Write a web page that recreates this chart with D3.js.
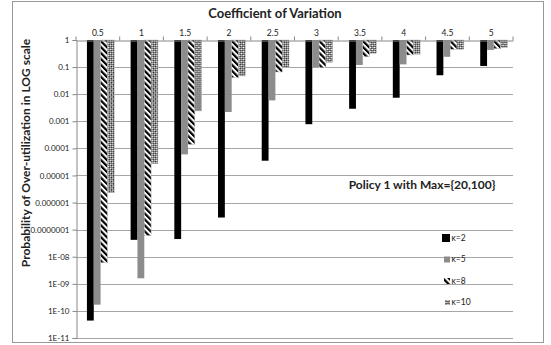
<!DOCTYPE html>
<html>
<head>
<meta charset="utf-8">
<script src="https://cdn.jsdelivr.net/npm/d3@7"></script>
<style>
  body { margin: 0; background: #fff; }
  text { font-family: Lato, "Liberation Sans", sans-serif; fill: #222; }
</style>
</head>
<body>
<script>
// categories and series
var categories = ["0.5", "1", "1.5", "2", "2.5", "3", "3.5", "4", "4.5", "5"];
var seriesNames = ["κ=2", "κ=5", "κ=8", "κ=10"];
var k2  = [4.4e-11, 4.2e-8, 4.5e-8, 2.8e-7, 3.5e-5, 7.8e-4, 2.9e-3, 7.4e-3, 0.05, 0.11];
var k5  = [1.7e-10, 1.6e-9, 6e-5, 2.2e-3, 5.9e-3, 0.10, 0.12, 0.126, 0.24, 0.43];
var k8  = [6e-9, 6e-8, 1.4e-4, 0.041, 0.066, 0.095, 0.24, 0.28, 0.45, 0.48];
var k10 = [2.3e-6, 2.7e-5, 2.4e-3, 0.047, 0.095, 0.15, 0.32, 0.3, 0.45, 0.52];
var yTicks = [1, 0.1, 0.01, 0.001, 1e-4, 1e-5, 1e-6, 1e-7, 1e-8, 1e-9, 1e-10, 1e-11];
var yTickLabels = ["1", "0.1", "0.01", "0.001", "0.0001", "0.00001", "0.000001",
                   "0.0000001", "1E-08", "1E-09", "1E-10", "1E-11"];

var allSeries = [k2, k5, k8, k10];

var width = 551, height = 345;
var plot = {left: 76, right: 513, top: 40, bottom: 338};

var svg = d3.select("body").append("svg")
    .attr("width", width)
    .attr("height", height);

// patterns for the hatched series
var defs = svg.append("defs");
var hatch = defs.append("pattern")
    .attr("id", "hatch")
    .attr("patternUnits", "userSpaceOnUse")
    .attr("width", 4.2).attr("height", 4.2)
    .attr("patternTransform", "rotate(-45)");
hatch.append("rect").attr("width", 4.2).attr("height", 4.2).attr("fill", "#fff");
hatch.append("rect").attr("width", 2.2).attr("height", 4.2).attr("fill", "#000");

// small checker turned 45 degrees
var zig = defs.append("pattern")
    .attr("id", "zig")
    .attr("patternUnits", "userSpaceOnUse")
    .attr("width", 2.8).attr("height", 2.8)
    .attr("patternTransform", "rotate(45)");
zig.append("rect").attr("width", 2.8).attr("height", 2.8).attr("fill", "#fff");
zig.append("rect").attr("width", 1.4).attr("height", 1.4).attr("fill", "#111");
zig.append("rect").attr("x", 1.4).attr("y", 1.4).attr("width", 1.4).attr("height", 1.4).attr("fill", "#111");

var fills = ["#000", "#8c8c8c", "url(#hatch)", "url(#zig)"];

// outer frame
svg.append("rect")
    .attr("x", 12.5).attr("y", 1.5)
    .attr("width", 531).attr("height", 341)
    .attr("fill", "none")
    .attr("stroke", "#999");

// scales
var x0 = d3.scaleBand().domain(categories).range([plot.left, plot.right]);
var x1 = d3.scaleBand().domain(d3.range(seriesNames.length))
    .range([x0.step() * 0.25, x0.step() * 0.875]);
var y = d3.scaleLog().domain([1e-11, 1]).range([plot.bottom, plot.top]);

// gridlines
svg.append("g").selectAll("line")
    .data(yTicks.slice(1))
    .enter().append("line")
    .attr("x1", plot.left).attr("x2", plot.right)
    .attr("y1", function(d) { return Math.round(y(d)) + 0.5; })
    .attr("y2", function(d) { return Math.round(y(d)) + 0.5; })
    .attr("stroke", "#a6a6a6");

// bars
var groups = svg.append("g").selectAll("g")
    .data(categories)
    .enter().append("g")
    .attr("transform", function(d) { return "translate(" + x0(d) + ",0)"; });

groups.selectAll("rect")
    .data(function(d, i) { return allSeries.map(function(s, j) { return {j: j, v: s[i]}; }); })
    .enter().append("rect")
    .attr("x", function(d) { return x1(d.j); })
    .attr("width", x1.bandwidth())
    .attr("y", y(1))
    .attr("height", function(d) { return y(d.v) - y(1); })
    .attr("fill", function(d) { return fills[d.j]; })
    .attr("stroke", function(d) { return d.j >= 2 ? "#bbb" : "none"; })
    .attr("stroke-width", 0.5);

// top axis
var xAxis = svg.append("g")
    .attr("transform", "translate(0," + (plot.top + 0.5) + ")")
    .call(d3.axisTop(x0).tickSize(0).tickPadding(5));
xAxis.select(".domain").attr("stroke", "#888");
xAxis.selectAll("text").attr("font-size", 8.5).attr("fill", "#333")
    .style("font-family", "Lato, sans-serif");
// tick marks between categories
xAxis.selectAll(".sep")
    .data(categories.concat([null]))
    .enter().append("line")
    .attr("class", "sep")
    .attr("x1", function(d, i) { return plot.left + i * x0.step(); })
    .attr("x2", function(d, i) { return plot.left + i * x0.step(); })
    .attr("y1", 0).attr("y2", -4)
    .attr("stroke", "#888");

// left axis
var yAxis = svg.append("g")
    .attr("transform", "translate(" + (plot.left + 0.5) + ",0)")
    .call(d3.axisLeft(y).tickValues(yTicks).tickSize(4).tickPadding(3)
      .tickFormat(function(d, i) { return yTickLabels[i]; }));
yAxis.select(".domain").attr("stroke", "#888");
yAxis.selectAll(".tick line").attr("stroke", "#888");
yAxis.selectAll("text").attr("font-size", 8).attr("fill", "#333")
    .style("font-family", "Lato, sans-serif");

// titles
svg.append("text")
    .attr("x", 275).attr("y", 18)
    .attr("text-anchor", "middle")
    .attr("font-size", 13).attr("font-weight", "bold")
    .text("Coefficient of Variation");

svg.append("text")
    .attr("transform", "translate(30,153) rotate(-90)")
    .attr("text-anchor", "middle")
    .attr("font-size", 12).attr("font-weight", "bold")
    .text("Probability of Over-utilization in LOG scale");

// legend
svg.append("text")
    .attr("x", 422).attr("y", 189)
    .attr("text-anchor", "middle")
    .attr("font-size", 12).attr("font-weight", "bold")
    .text("Policy 1 with Max={20,100}");

var legendSizes = [8, 6, 6, 5];
var legend = svg.append("g").selectAll("g")
    .data(seriesNames)
    .enter().append("g")
    .attr("transform", function(d, i) { return "translate(450," + (238 + i * 21.5) + ")"; });
legend.append("rect")
    .attr("x", function(d, i) { return -legendSizes[i]; })
    .attr("y", function(d, i) { return -legendSizes[i] / 2; })
    .attr("width", function(d, i) { return legendSizes[i]; })
    .attr("height", function(d, i) { return legendSizes[i]; })
    .attr("fill", function(d, i) { return fills[i]; });
legend.append("text")
    .attr("x", 1.5).attr("dy", "0.35em")
    .attr("font-size", 8.5)
    .text(function(d) { return d; });
</script>
</body>
</html>
